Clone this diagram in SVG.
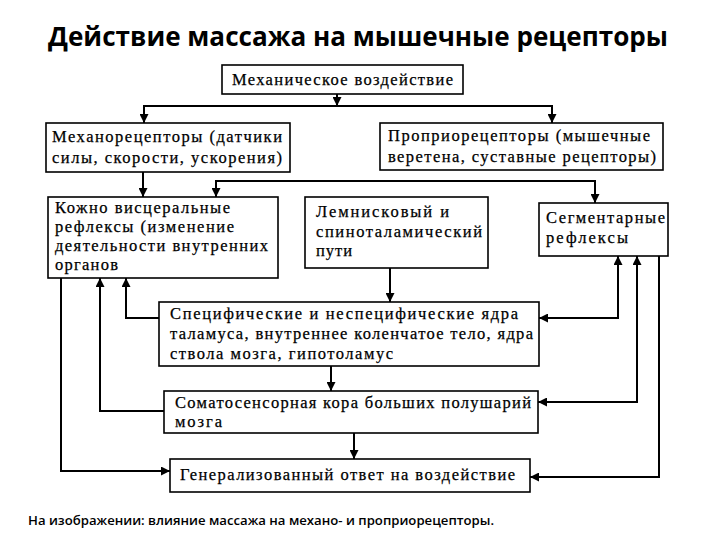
<svg xmlns="http://www.w3.org/2000/svg" width="720" height="540" viewBox="0 0 720 540">
<style>
.box{fill:#fff;stroke:#000;stroke-width:1.6}
.t{font-family:"Liberation Serif","Times New Roman",serif;font-size:16.5px;fill:#000;stroke:#000;stroke-width:0.25}
.c{fill:none;stroke:#000;stroke-width:2}
.title{font-family:"Open Sans","Noto Sans",sans-serif;font-weight:bold;font-size:26px;fill:#000}
.foot{font-family:"Open Sans","Noto Sans",sans-serif;font-weight:600;font-size:13px;fill:#000}
</style>
<defs>
<marker id="ah" viewBox="0 0 10 10" refX="10" refY="5" markerWidth="9" markerHeight="9" markerUnits="userSpaceOnUse" orient="auto-start-reverse">
<path d="M0,0 L10,5 L0,10 z" fill="#000"/>
</marker>
</defs>
<rect width="720" height="540" fill="#fff"/>
<text class="title" x="48" y="46" textLength="620" lengthAdjust="spacingAndGlyphs">Действие массажа на мышечные рецепторы</text>

<g id="connectors">
<path class="c" d="M337,94 V106" marker-end="url(#ah)"/>
<path class="c" d="M337,106 H144 V123" marker-end="url(#ah)"/>
<path class="c" d="M337,106 H552 V123" marker-end="url(#ah)"/>
<path class="c" d="M143,172 V197" marker-end="url(#ah)"/>
<path class="c" d="M216,197 V181 H595 V203" marker-start="url(#ah)" marker-end="url(#ah)"/>
<path class="c" d="M390,268 V302" marker-end="url(#ah)"/>
<path class="c" d="M331,366 V391" marker-end="url(#ah)"/>
<path class="c" d="M354,433 V459" marker-end="url(#ah)"/>
<path class="c" d="M61,278 V471 H170" marker-end="url(#ah)"/>
<path class="c" d="M164,411 H100 V278" marker-end="url(#ah)"/>
<path class="c" d="M159,318 H126 V278" marker-end="url(#ah)"/>
<path class="c" d="M539,318 H618 V256" marker-start="url(#ah)" marker-end="url(#ah)"/>
<path class="c" d="M538,402 H637 V256" marker-start="url(#ah)" marker-end="url(#ah)"/>
<path class="c" d="M659,256 V477 H530" marker-end="url(#ah)"/>
</g>

<g id="n_mech">
<rect class="box" x="222" y="65" width="241" height="29"/>
<text class="t" x="232" y="85" textLength="221" lengthAdjust="spacing">Механическое воздействие</text>
</g>
<g id="n_mechano">
<rect class="box" x="46" y="123" width="244" height="49"/>
<text class="t" x="52" y="142" textLength="230" lengthAdjust="spacing">Механорецепторы (датчики</text>
<text class="t" x="52" y="163" textLength="230" lengthAdjust="spacing">силы, скорости, ускорения)</text>
</g>
<g id="n_proprio">
<rect class="box" x="380" y="123" width="283" height="47"/>
<text class="t" x="388" y="141" textLength="262" lengthAdjust="spacing">Проприорецепторы (мышечные</text>
<text class="t" x="388" y="162" textLength="268" lengthAdjust="spacing">веретена, суставные рецепторы)</text>
</g>
<g id="n_skin">
<rect class="box" x="48" y="197" width="230" height="81"/>
<text class="t" x="55" y="213" textLength="175" lengthAdjust="spacing">Кожно висцеральные</text>
<text class="t" x="55" y="232" textLength="179" lengthAdjust="spacing">рефлексы (изменение</text>
<text class="t" x="55" y="251" textLength="213" lengthAdjust="spacing">деятельности внутренних</text>
<text class="t" x="55" y="270" textLength="63" lengthAdjust="spacing">органов</text>
</g>
<g id="n_lemn">
<rect class="box" x="305" y="197" width="183" height="71"/>
<text class="t" x="316" y="217" textLength="133" lengthAdjust="spacing">Лемнисковый и</text>
<text class="t" x="316" y="237" textLength="166" lengthAdjust="spacing">спиноталамический</text>
<text class="t" x="316" y="256" textLength="36" lengthAdjust="spacing">пути</text>
</g>
<g id="n_segm">
<rect class="box" x="539" y="203" width="129" height="53"/>
<text class="t" x="546" y="223" textLength="119" lengthAdjust="spacing">Сегментарные</text>
<text class="t" x="546" y="243" textLength="82" lengthAdjust="spacing">рефлексы</text>
</g>
<g id="n_spec">
<rect class="box" x="159" y="302" width="380" height="64"/>
<text class="t" x="170" y="319" textLength="348" lengthAdjust="spacing">Специфические и неспецифические ядра</text>
<text class="t" x="170" y="339" textLength="363" lengthAdjust="spacing">таламуса, внутреннее коленчатое тело, ядра</text>
<text class="t" x="170" y="359" textLength="223" lengthAdjust="spacing">ствола мозга, гипотоламус</text>
</g>
<g id="n_somato">
<rect class="box" x="164" y="391" width="374" height="42"/>
<text class="t" x="175" y="408" textLength="356" lengthAdjust="spacing">Соматосенсорная кора больших полушарий</text>
<text class="t" x="175" y="427" textLength="47" lengthAdjust="spacing">мозга</text>
</g>
<g id="n_gen">
<rect class="box" x="170" y="459" width="360" height="33"/>
<text class="t" x="180" y="480" textLength="335" lengthAdjust="spacing">Генерализованный ответ на воздействие</text>
</g>

<text class="foot" x="28" y="525" textLength="466" lengthAdjust="spacingAndGlyphs">На изображении: влияние массажа на механо- и проприорецепторы.</text>
</svg>
